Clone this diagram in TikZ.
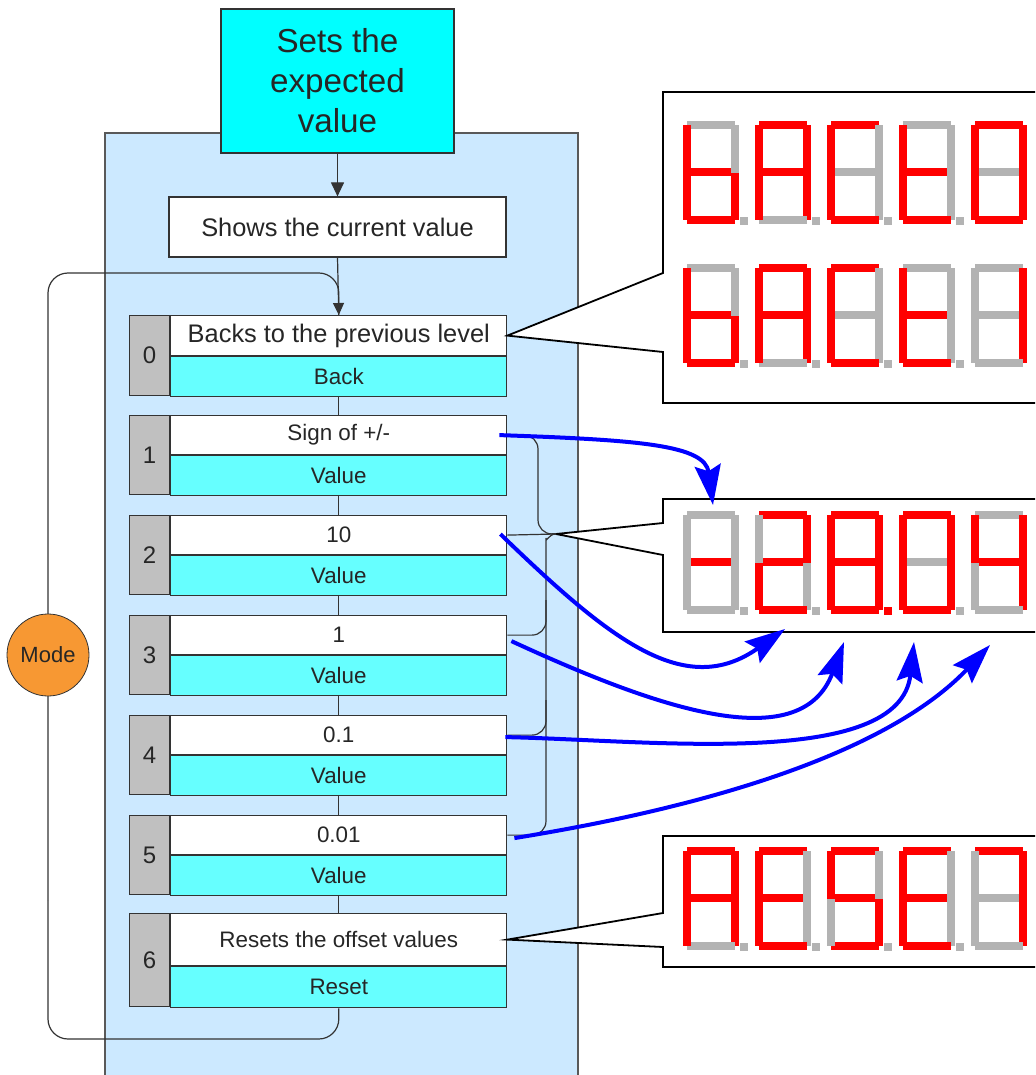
\documentclass[tikz,border=0pt]{standalone}
\usepackage{fontspec}
\setmainfont{Liberation Sans}
\usetikzlibrary{positioning,arrows.meta}

\definecolor{menublue}{RGB}{204,233,255}
\definecolor{topcyan}{RGB}{0,255,255}
\definecolor{valcyan}{RGB}{102,255,255}
\definecolor{numgray}{RGB}{192,192,192}
\definecolor{modeorange}{RGB}{247,152,51}
\definecolor{segred}{RGB}{255,0,0}
\definecolor{seggray}{RGB}{179,179,179}
\definecolor{linegray}{RGB}{51,51,51}

% one digit of the display: segments a b c d e f g and the point
\newcommand\segfill[8]{%
  \fill[seg#1] (4,0) rectangle (52,8);
  \fill[seg#2] (48,4) rectangle (56,52);
  \fill[seg#3] (48,52) rectangle (56,99);
  \fill[seg#4] (4,95) rectangle (52,103);
  \fill[seg#5] (0,52) rectangle (8,99);
  \fill[seg#6] (0,4) rectangle (8,52);
  \fill[seg#7] (8,47) rectangle (48,55);
  \fill[seg#8] (57,96) rectangle (65,104);}
\newcommand\segdigit[2]{\begin{scope}[shift={#1}]\expandafter\segfill#2\end{scope}}

\begin{document}
\begin{tikzpicture}[x=0.5pt, y=-0.5pt,
		box/.style={draw=linegray, line width=0.6pt, inner sep=0pt, text=black!85, font=\fontsize{11.2}{13.4}\selectfont},
		titlebox/.style={box, fill=white, minimum width=168pt, minimum height=19.5pt},
		valbox/.style={box, fill=valcyan, minimum width=168pt, minimum height=20pt},
		numbox/.style={box, fill=numgray, minimum width=20pt, minimum height=39.5pt, font=\fontsize{12}{14}\selectfont},
		conn/.style={draw=linegray, line width=0.6pt},
		brace/.style={conn, rounded corners=7pt},
		panel/.style={draw=black, line width=0.9pt, fill=white},
		valarrow/.style={draw=blue, line width=2pt, -{Stealth[length=20pt, width=13pt, inset=3pt]}},
		seg0/.style={fill=seggray}, seg1/.style={fill=segred}, segn/.style={fill=none},
	]
	\useasboundingbox (0,0) rectangle (1035,1075);
	\clip (0,0) rectangle (1035,1075);

	\draw[fill=menublue, draw=black!65, line width=0.6pt] (105,133) rectangle (578,1090);

	\node[box, fill=topcyan, minimum width=116.5pt, minimum height=72pt, align=center, font=\fontsize{16.6}{20}\selectfont] (top) at (337.5,81) {Sets the\\expected\\value};
	\node[box, fill=white, minimum width=168.5pt, minimum height=30pt, font=\fontsize{12.7}{15}\selectfont] (shows) at (337.5,227) {Shows the current value};

	\node[numbox, minimum height=40pt, anchor=north west] (n0) at (129,315) {0};
	\node[titlebox, minimum height=20pt, anchor=north west, font=\fontsize{12.7}{15}\selectfont] (t0) at (n0.north east) {Backs to the previous level};
	\node[valbox, below=0pt of t0] (v0) {Back};

	\foreach \k/\ttl in {1/{Sign of +/-},2/10,3/1,4/0.1,5/0.01} {
		\node[numbox, anchor=north west] (n\k) at (129,315+100*\k) {\k};
		\node[titlebox, anchor=north west] (t\k) at (n\k.north east) {\ttl};
		\node[valbox, below=0pt of t\k] (v\k) {Value};
	}

	\node[numbox, minimum height=46.5pt, anchor=north west] (n6) at (129,913) {6};
	\node[titlebox, minimum height=26pt, anchor=north west] (t6) at (n6.north east) {Resets the offset values};
	\node[valbox, minimum height=20.5pt, below=0pt of t6] (v6) {Reset};

	\draw[conn, -{Triangle[length=7pt, width=6.5pt]}] (top.south) -- (shows.north);
	\draw[conn, -{Triangle[length=6pt, width=5.5pt]}] (shows.south) -- (t0.north);
	\foreach \a/\b in {0/1,1/2,2/3,3/4,4/5,5/6}
		\draw[conn] (v\a.south) -- (t\b.north);

	% mode loop
	\coordinate (loopbot) at (48,1039);
	\coordinate (looptop) at (48,273);
	\draw[conn, rounded corners=10pt] (v6.south) |- (loopbot) -- (48,900);
	\draw[conn, rounded corners=10pt] (48,900) -- (48,400) -- (looptop) -| (t0.north);
	\node[circle, draw=linegray, fill=modeorange, minimum size=41pt, inner sep=0pt, text=black!85, font=\fontsize{11}{13}\selectfont] (mode) at (48,655) {Mode};

	% displays
	\draw[panel] (1045,92) -- (663,92) -- (663,273) -- (t0.east) -- (663,352) -- (663,403) -- (1045,403);
	\coordinate (brtip) at (556,534);
	\draw[panel] (1045,499) -- (663,499) -- (663,523) -- (brtip) -- (663,555) -- (663,632) -- (1045,632);
	\draw[panel] (1045,836) -- (663,836) -- (663,913) -- (t6.east) -- (663,947) -- (663,967) -- (1045,967);

	\draw[brace] (t1.east) -| (538,534) -- (brtip);
	\draw[conn] (t2.east) -- (brtip);
	\draw[brace] (brtip) to[out=180, in=90] (546,552) |- (t5.east);
	\draw[brace] (546,600) |- (t3.east);
	\draw[brace] (546,700) |- (t4.east);

	\foreach \pat [count=\i from 0] in {00111110,11101110,10011100,00011110,1111110n}
		\segdigit{(683+72*\i,121)}{\pat};
	\foreach \pat [count=\i from 0] in {00111110,11101110,10011100,00011110,0110000n}
		\segdigit{(683+72*\i,264)}{\pat};
	\foreach \pat [count=\i from 0] in {00000010,11011010,11111111,11111100,0110011n}
		\segdigit{(683+72*\i,511)}{\pat};
	\foreach \pat [count=\i from 0] in {11101110,10011110,10110110,10011110,1110000n}
		\segdigit{(683+72*\i,847)}{\pat};

	% which digit each step sets
	\coordinate (sign) at (713,505);
	\coordinate (tens) at (785,629);
	\coordinate (ones) at (844,642);
	\coordinate (tenths) at (914,642);
	\coordinate (hundredths) at (990,645);
	\draw[valarrow] ([shift={(-8,0)}]t1.east) .. controls (640,440) and (705,445) .. (sign);
	\draw[valarrow] ([shift={(-7,-1)}]t2.east) .. controls (610,640) and (685,700) .. (tens);
	\draw[valarrow] ([shift={(4,6)}]t3.east) .. controls (650,705) and (800,760) .. (ones);
	\draw[valarrow] ([shift={(-2,2)}]t4.east) .. controls (650,740) and (900,770) .. (tenths);
	\draw[valarrow] ([shift={(7,3)}]t5.east) .. controls (750,800) and (900,740) .. (hundredths);
\end{tikzpicture}
\end{document}
